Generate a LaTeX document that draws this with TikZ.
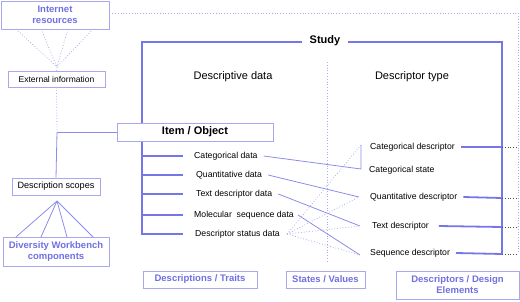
\documentclass[tikz,border=0pt]{standalone}
\usepackage{fontspec}
\setmainfont{Liberation Sans}
\definecolor{frameblue}{RGB}{118,118,232}
\definecolor{thinblue}{RGB}{140,140,236}
\definecolor{boxborder}{RGB}{168,168,240}
\definecolor{textblue}{RGB}{112,112,226}
\definecolor{dotblue}{RGB}{172,172,236}
\begin{document}
\begin{tikzpicture}[x=1pt,y=-1pt,
  box/.style={draw=boxborder,line width=0.9pt,fill=white,inner sep=0pt,align=center},
  bluebox/.style={box,text=textblue,font=\bfseries\fontsize{9.5}{11}\selectfont},
  blackbox/.style={box,font=\fontsize{8.7}{10}\selectfont},
  frame/.style={draw=frameblue,line width=1.8pt},
  thin/.style={draw=thinblue,line width=0.8pt},
  dotl/.style={draw=dotblue,line width=0.8pt,dotted},
  small/.style={font=\fontsize{8.7}{10}\selectfont,inner sep=0pt,anchor=west},
  head/.style={font=\fontsize{11}{13}\selectfont,inner sep=0pt}
]
\useasboundingbox (0,0) rectangle (520,301);

% coordinates
\coordinate (sl) at (142,42);
\coordinate (sr1) at (302,42);
\coordinate (sr2) at (348,42);
\coordinate (stc) at (502,42);
\coordinate (sbc) at (502,254);
\coordinate (lb) at (142,235);
\coordinate (b1) at (183,156);
\coordinate (b2) at (183,175);
\coordinate (b3) at (183,194);
\coordinate (b4) at (183,215);
\coordinate (b5) at (183,234);
\coordinate (a1) at (142,156);
\coordinate (a2) at (142,175);
\coordinate (a3) at (142,194);
\coordinate (a4) at (142,215);
\coordinate (a5) at (142,234);
\coordinate (s1) at (502,147);
\coordinate (s2) at (502,198);
\coordinate (s3) at (502,227);
\coordinate (s4) at (502,254);
\coordinate (e0) at (518,13);
\coordinate (e1) at (518,147);
\coordinate (e2) at (518,198);
\coordinate (e3) at (518,227);
\coordinate (e4) at (518,254);
\coordinate (dvt) at (327,62);
\coordinate (dvb) at (327,262);
\coordinate (cA) at (361,169);
\coordinate (cB) at (361,145);
\coordinate (qd) at (359,197);
\coordinate (td) at (360,226);
\coordinate (sd) at (360,255);
\coordinate (jx) at (57,132);
\coordinate (fanI) at (57,67);
\coordinate (fanD) at (57,201);

% divider
\draw[dotl] (dvt) -- (dvb);

% Study frame
\draw[frame] (sr1) -- (sl) -- (lb);
\draw[frame] (sr2) -- (stc) -- (sbc);
\foreach \i in {1,...,5} \draw[frame] (a\i) -- (b\i);
\node[font=\bfseries\fontsize{11}{13}\selectfont,inner sep=0pt] (study) at (325,41) {Study};

% left nodes
\node[bluebox,minimum width=108pt,minimum height=28pt] (inet) at (55,15) {Internet\\resources};
\node[blackbox,font=\fontsize{8.5}{10}\selectfont,minimum width=97pt,minimum height=16pt] (ext) at (56.5,79) {External information};
\node[blackbox,font=\fontsize{9.1}{10}\selectfont,minimum width=88pt,minimum height=17pt] (scopes) at (56,186.5) {Description scopes};
\node[bluebox,minimum width=106pt,minimum height=29pt] (dwb) at (56,251.5) {Diversity Workbench\\components};

% dotted from internet resources
\draw[dotl] (inet.east |- e0) -- (e0) -- (e4);
\foreach \xx in {16,41,68,93} \draw[dotl] (\xx,29) -- (fanI);
\draw[dotl] (fanI) -- (ext.north);
\draw[dotl] (ext.south) -- (jx);
\draw[thin] (jx) -- (scopes.north);
\foreach \xx in {16,41,67,93} \draw[thin] (fanD) -- (\xx,237);

% item
\node[box,font=\bfseries\fontsize{11}{13}\selectfont,minimum width=156pt,minimum height=18pt] (item) at (195,132) {Item / Object};
\draw[thin] (jx) -- (item.west);

% headers
\node[head] (dd) at (233,77) {Descriptive data};
\node[head] (dtp) at (412,77) {Descriptor type};

% descriptive data
\node[small] (cd) at (194,156) {Categorical data};
\node[small] (qdat) at (196,175) {Quantitative data};
\node[small] (tdat) at (196,194) {Text descriptor data};
\node[small] (mdat) at (194,215) {Molecular\ \ sequence data};
\node[small] (sdat) at (195,234) {Descriptor status data};

% descriptor types
\node[small] (cdesc) at (370,147) {Categorical descriptor};
\node[small] (cstate) at (369,170) {Categorical state};
\node[small] (qdesc) at (370,197) {Quantitative descriptor};
\node[small] (tdesc) at (372,226) {Text descriptor};
\node[small] (sdesc) at (370,253) {Sequence descriptor};

% stubs to frame
\draw[frame] ([xshift=6pt]cdesc.east) -- (s1);
\draw[frame] ([xshift=6pt]qdesc.east) -- (s2);
\draw[frame] ([xshift=10pt]tdesc.east) -- (s3);
\draw[frame] ([xshift=6pt]sdesc.east) -- (s4);
\draw[dotl,draw=black!70,line width=0.6pt] (s1) -- (e1);
\draw[dotl,draw=black!70,line width=0.6pt] (s2) -- (e2);
\draw[dotl,draw=black!70,line width=0.6pt] (s3) -- (e3);
\draw[dotl,draw=black!70,line width=0.6pt] (s4) -- (e4);

% connectors
\draw[thin] ([xshift=6pt]cd.east) -- (cA) -- (cB);
\draw[thin] ([xshift=6pt]qdat.east) -- (qd);
\draw[thin] ([xshift=6pt]tdat.east) -- (td);
\draw[thin] ([xshift=4pt]mdat.east) -- (sd);
\coordinate (sp) at ([xshift=7pt]sdat.east);
\foreach \t in {cB,qd,td,sd} \draw[dotl] (sp) -- (\t);

% bottom boxes
\node[bluebox,minimum width=114pt,minimum height=17pt] (dtr) at (200,279.5) {Descriptions / Traits};
\node[bluebox,minimum width=79pt,minimum height=17pt] (sv) at (325.5,279.5) {States / Values};
\node[bluebox,minimum width=123pt,minimum height=28pt] (de) at (457.5,285) {Descriptors / Design\\Elements};
\end{tikzpicture}
\end{document}
